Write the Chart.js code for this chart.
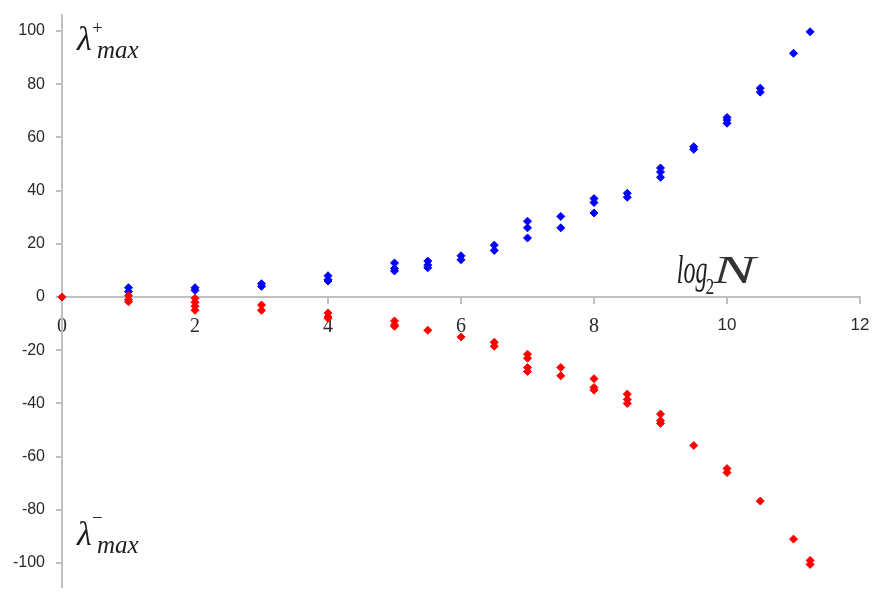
<!DOCTYPE html>
<html>
<head>
<meta charset="utf-8">
<script src="https://cdn.jsdelivr.net/npm/chart.js@4/dist/chart.umd.min.js"></script>
<style>
  html, body { margin: 0; padding: 0; background: #ffffff; }
  #wrap { width: 872px; height: 592px; }
</style>
</head>
<body>
<div id="wrap"><canvas id="chart" width="872" height="592"></canvas></div>
<script>
// log2 N positions at which the extreme eigenvalues were sampled
const logNPlus = [1, 2, 3, 4, 5, 5.5, 6, 6.5, 7, 7.5, 8, 8.5, 9, 9.5, 10, 10.5, 11, 11.25];
// largest positive eigenvalue, several runs per N
const lambdaPlus = [
  [3.5, 2], [3.5, 2.5], [5, 4], [8, 6.5, 6], [12.8, 10.7, 9.8], [13.5, 12, 11],
  [15.5, 14], [19.5, 17.5], [28.5, 26, 22.2], [30.3, 26], [37, 35.5, 31.6],
  [39, 37.5], [48.5, 47, 45], [56.5, 55.5], [67.5, 66.5, 65.3], [78.5, 77],
  [91.6], [99.7]
];
const logNMinus = [0, 1, 2, 3, 4, 5, 5.5, 6, 6.5, 7, 7.5, 8, 8.5, 9, 9.5, 10, 10.5, 11, 11.25];
// largest negative eigenvalue, several runs per N
const lambdaMinus = [
  [0], [0.5, -1, -1.8], [-0.5, -2, -3.5, -5], [-3, -5], [-6, -7.5, -8],
  [-9, -10.5, -11], [-12.5], [-15], [-17, -18.5], [-21.5, -23, -26.5, -28],
  [-26.5, -29.6], [-30.7, -34, -35], [-36.5, -38.5, -40], [-44, -46.5, -47.5],
  [-55.8], [-64.5, -66], [-76.7], [-91], [-99, -100.5]
];
// axis ticks
const xTicks = [0, 2, 4, 6, 8, 10, 12];
const yTicks = [-100, -80, -60, -40, -20, 0, 20, 40, 60, 80, 100];

function toPoints(xs, groups) {
  const pts = [];
  xs.forEach((x, i) => groups[i].forEach(v => pts.push({ x: x, y: v })));
  return pts;
}

const axisGrey = '#c0c0c0';
const tickText = '#2a2a2a';
const serif = '"Liberation Serif", "Times New Roman", serif';
const sans = '"Liberation Sans", Arial, sans-serif';

// draws text squeezed or stretched horizontally
function stretched(ctx, text, x, y, font, sx) {
  ctx.save();
  ctx.translate(x, y);
  ctx.scale(sx, 1);
  ctx.font = font;
  ctx.fillText(text, 0, 0);
  ctx.restore();
}

// italic math-style labels drawn onto the canvas
const mathLabels = {
  id: 'mathLabels',
  afterDraw(chart) {
    const ctx = chart.ctx;
    const xs = chart.scales.x, ys = chart.scales.y;
    ctx.save();
    ctx.fillStyle = '#1e1e1e';
    ctx.textAlign = 'left';
    ctx.textBaseline = 'alphabetic';

    function lambda(x0, base, sign, signY) {
      ctx.font = 'italic 34px ' + serif;
      ctx.fillText('\u03bb', x0, base);
      ctx.font = '19px ' + serif;
      ctx.fillText(sign, x0 + 15, signY);
      ctx.font = 'italic 25px ' + serif;
      ctx.fillText('max', x0 + 20, base + 8);
    }
    const lx = xs.getPixelForValue(0) + 15;
    lambda(lx, ys.getPixelForValue(92.8), '+', ys.getPixelForValue(99.5) + 2);
    lambda(lx, ys.getPixelForValue(-93.2), '\u2212', ys.getPixelForValue(-84.5) + 2);

    // log2 N next to the horizontal axis
    const ax = xs.getPixelForValue(9.245);
    const base = ys.getPixelForValue(5.2);
    stretched(ctx, 'log', ax, base, 'italic 40px ' + serif, 0.6);
    stretched(ctx, '2', ax + 29, base + 11, '24px ' + serif, 0.7);
    ctx.fillStyle = '#333333';
    stretched(ctx, 'N', ax + 36, base, 'italic 40px ' + serif, 1.6);
    ctx.restore();
  }
};

new Chart(document.getElementById('chart'), {
  type: 'scatter',
  data: {
    datasets: [
      {
        label: 'lambda max minus',
        data: toPoints(logNMinus, lambdaMinus),
        pointStyle: 'rectRot',
        pointRadius: 4,
        borderWidth: 1,
        backgroundColor: '#ff0000',
        borderColor: '#ff0000',
        clip: false
      },
      {
        label: 'lambda max plus',
        data: toPoints(logNPlus, lambdaPlus),
        pointStyle: 'rectRot',
        pointRadius: 4,
        borderWidth: 1,
        backgroundColor: '#0000ff',
        borderColor: '#0000ff',
        clip: false
      }
    ]
  },
  options: {
    responsive: false,
    animation: false,
    events: [],
    layout: { padding: { left: 0, right: 12, top: 15, bottom: 0 } },
    plugins: { legend: { display: false }, tooltip: { enabled: false } },
    scales: {
      x: {
        type: 'linear',
        min: 0,
        max: 12,
        position: { y: 0 },
        afterBuildTicks(s) { s.ticks = xTicks.map(v => ({ value: v })); },
        afterFit(s) { s.paddingLeft = 0; s.paddingRight = 0; s.paddingTop = 0; s.paddingBottom = 0; },
        border: { display: true, color: axisGrey, width: 2 },
        grid: { display: true, drawOnChartArea: false, drawTicks: true, tickLength: 6, color: axisGrey, lineWidth: 2 },
        ticks: {
          padding: 12,
          color: tickText,
          maxRotation: 0,
          autoSkip: false,
          font(c) {
            const v = c.tick ? c.tick.value : 0;
            return v >= 10 ? { family: sans, size: 17 } : { family: serif, size: 20 };
          }
        }
      },
      y: {
        type: 'linear',
        min: -109,
        max: 106,
        position: 'left',
        afterBuildTicks(s) { s.ticks = yTicks.map(v => ({ value: v })); },
        afterFit(s) { s.width = 62; s.paddingTop = 0; s.paddingBottom = 0; s.paddingLeft = 0; s.paddingRight = 0; },
        border: { display: true, color: axisGrey, width: 2 },
        grid: { display: true, drawOnChartArea: false, drawTicks: true, tickLength: 6, color: axisGrey, lineWidth: 2 },
        ticks: {
          padding: 11,
          color: tickText,
          autoSkip: false,
          font: { family: sans, size: 16 }
        }
      }
    }
  },
  plugins: [mathLabels]
});
</script>
</body>
</html>
